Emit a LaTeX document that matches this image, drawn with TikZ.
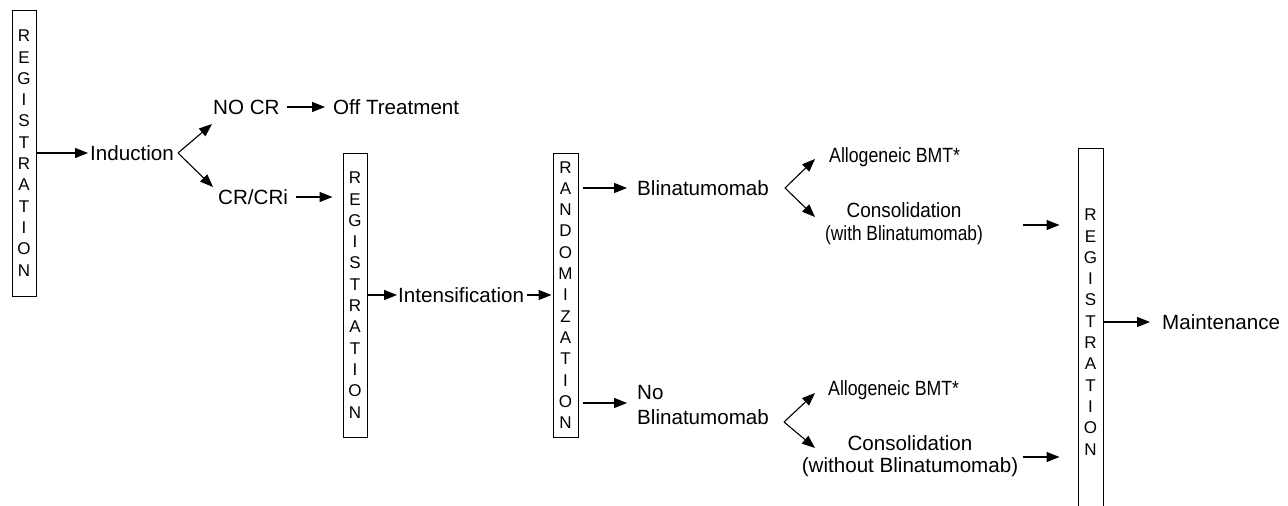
\documentclass[tikz,border=0pt]{standalone}
\usepackage{fontspec}
\setmainfont{Liberation Sans}
\usetikzlibrary{arrows.meta,calc}
\newcommand\cond[2][0.86]{\scalebox{#1}[1]{#2}}
\tikzset{
  vbox/.style={draw, line width=1pt, minimum width=24pt, inner sep=0pt, align=center,
    font=\fontsize{17}{21.3}\selectfont},
  txt/.style={inner sep=0pt, anchor=west, font=\fontsize{20.6}{23}\selectfont},
  arr/.style={line width=1.1pt, -{Triangle[length=13pt,width=10pt]}},
}
\begin{document}
\begin{tikzpicture}[x=1pt,y=-1pt]
\useasboundingbox (0,0) rectangle (1288,506);
\clip (0,0) rectangle (1288,506);
% boxes
\node[vbox, minimum height=286pt] (reg1) at (24,153) {R\\E\\G\\I\\S\\T\\R\\A\\T\\I\\O\\N};
\node[vbox, minimum height=284pt] (reg2) at (355,295) {R\\E\\G\\I\\S\\T\\R\\A\\T\\I\\O\\N};
\node[vbox, minimum height=284pt, minimum width=25pt] (rand) at (565.5,295) {R\\A\\N\\D\\O\\M\\I\\Z\\A\\T\\I\\O\\N};
\node[vbox, minimum height=367pt, minimum width=25pt] (reg4) at (1090.5,332) {R\\E\\G\\I\\S\\T\\R\\A\\T\\I\\O\\N};
% texts
\node[txt] (induction) at (90,153) {Induction};
\node[txt] (nocr) at (213,107) {NO CR};
\node[txt] (offtr) at (333,107) {Off Treatment};
\node[txt] (crcri) at (218,197) {CR/CRi};
\node[txt] (intens) at (398,295) {Intensification};
\node[txt] (blin) at (637,188) {Blinatumomab};
\node[txt, align=left, font=\fontsize{20.6}{25}\selectfont] (noblin) at (637,405.5) {No\\Blinatumomab};
\node[txt] (allo1) at (829,157) {\cond{Allogeneic BMT*}};
\node[txt, anchor=center, align=center] (cons1) at (904,223.5) {\cond[0.92]{Consolidation}\\\cond[0.84]{(with Blinatumomab)}};
\node[txt] (allo2) at (828,390) {\cond{Allogeneic BMT*}};
\node[txt, anchor=center, align=center, font=\fontsize{20.6}{22}\selectfont] (cons2) at (910,456) {Consolidation\\(without Blinatumomab)};
\node[txt] (maint) at (1162,322) {Maintenance};
% branch coordinates
\coordinate (ia) at (178,153);
\coordinate (it1) at (212,124);
\coordinate (it2) at (213,187);
\coordinate (ba) at (785,188);
\coordinate (bt1) at (815,159);
\coordinate (bt2) at (815,217);
\coordinate (na) at (784,422);
\coordinate (nt1) at (815,393);
\coordinate (nt2) at (815,448);
% connectors
\draw[arr, shorten >=2pt] (reg1.east) -- (induction.west);
\draw[arr] (ia) -- (it1);
\draw[arr] (ia) -- (it2);
\draw[arr, shorten <=7pt, shorten >=8pt] (nocr.east) -- (offtr.west);
\draw[arr, shorten <=8pt, shorten >=10pt] (crcri.east) -- (crcri.east -| reg2.west);
\draw[arr, shorten >=1pt] (reg2.east) -- (intens.west);
\draw[arr, shorten <=3pt, shorten >=1pt] (intens.east) -- (rand.west);
\draw[arr, shorten <=4pt, shorten >=10pt] (rand.east |- blin.west) -- (blin.west);
\draw[arr, shorten <=4pt, shorten >=10pt] (rand.east |- 0,403) -- (637,403);
\draw[arr] (ba) -- (bt1);
\draw[arr] (ba) -- (bt2);
\draw[arr] (na) -- (nt1);
\draw[arr] (na) -- (nt2);
\draw[arr] ($(reg4.west |- 0,225)+(-55,0)$) -- ($(reg4.west |- 0,225)+(-18,0)$);
\draw[arr] ($(reg4.west |- 0,457)+(-55,0)$) -- ($(reg4.west |- 0,457)+(-18,0)$);
\draw[arr, shorten >=12pt] (reg4.east |- maint.west) -- (maint.west);
\end{tikzpicture}
\end{document}
